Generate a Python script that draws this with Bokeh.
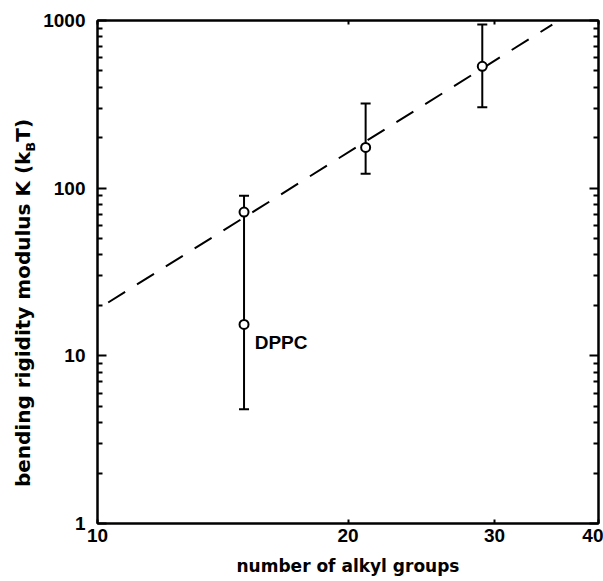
import numpy as np
from bokeh.plotting import figure
from bokeh.layouts import row
from bokeh.models import (Range1d, FixedTicker, PrintfTickFormatter, LogAxis, Label,
                          Whisker, TeeHead, ColumnDataSource, CustomLabelingPolicy, Div)
from bokeh.embed import file_html
from bokeh.resources import INLINE

# ---- data ----
x_ticks = [10, 20, 30, 40]
y_ticks = [1, 10, 100, 1000]
y_minor = [m * d for d in (1, 10, 100) for m in range(2, 10)]

n_alkyl = [15, 15, 21, 29]
k_modulus = [72, 15.4, 175, 533]

bar_x = [15, 21, 29]
bar_low = [4.8, 122, 304]
bar_high = [90, 320, 945]

fit_x = [10.3, 35.2]
fit_k = [20.8, 945]

dppc_x = 15.45
dppc_y = 12.0
dppc_text = "DPPC"

x_title = "number of alkyl groups"
y_title_main = "bending rigidity modulus K (k"
y_title_sub = "B"
y_title_tail = "T)"

TICK_FONT = "Liberation Sans"
TITLE_FONT = "DejaVu Sans"

LABEL_W = 40

p = figure(width=603 - LABEL_W, height=581, x_axis_type="log", y_axis_type="log",
           x_range=Range1d(10, 40), y_range=Range1d(1, 1000),
           output_backend="svg", toolbar_location=None,
           min_border_left=96 - LABEL_W, min_border_right=2, min_border_top=20,
           min_border_bottom=58, margin=0)
p.xgrid.grid_line_color = None
p.ygrid.grid_line_color = None
p.outline_line_color = "black"
p.outline_line_width = 2
p.background_fill_color = "white"
p.border_fill_color = "white"

fmt = PrintfTickFormatter(format="%d")
no_labels = CustomLabelingPolicy(code="for (const i of indices) { indices.unset(i) }\nreturn indices")

def style_x(ax, labels=True):
    ax.ticker = FixedTicker(ticks=x_ticks, minor_ticks=[])
    ax.formatter = fmt
    ax.axis_line_width = 2
    ax.major_tick_in = 4
    ax.major_tick_out = 0
    ax.major_tick_line_width = 2
    ax.minor_tick_in = 0
    ax.minor_tick_out = 0
    if labels:
        ax.major_label_text_font = TICK_FONT
        ax.major_label_text_font_style = "bold"
        ax.major_label_text_font_size = "19px"
        ax.major_label_text_color = "black"
        ax.major_label_standoff = 5
    else:
        ax.major_label_policy = no_labels
        ax.major_label_text_font_size = "1px"
        ax.major_label_standoff = 0

def style_y(ax, labels=True):
    ax.ticker = FixedTicker(ticks=y_ticks, minor_ticks=y_minor)
    ax.formatter = fmt
    ax.axis_line_width = 2
    ax.major_tick_in = 9
    ax.major_tick_out = 0
    ax.major_tick_line_width = 2
    ax.minor_tick_in = 5
    ax.minor_tick_out = 0
    ax.minor_tick_line_width = 2
    if labels:
        ax.major_label_text_font = TICK_FONT
        ax.major_label_text_font_style = "bold"
        ax.major_label_text_font_size = "19px"
        ax.major_label_text_color = "black"
        ax.major_label_standoff = 12
    else:
        ax.major_label_policy = no_labels
        ax.major_label_text_font_size = "1px"
        ax.major_label_standoff = 0

style_x(p.xaxis[0])
style_y(p.yaxis[0])
p.xaxis.axis_label = x_title
p.xaxis.axis_label_text_font = TITLE_FONT
p.xaxis.axis_label_text_font_style = "bold"
p.xaxis.axis_label_text_font_size = "17px"
p.xaxis.axis_label_text_color = "black"
p.xaxis.axis_label_standoff = 11

top_ax = LogAxis()
style_x(top_ax, labels=False)
p.add_layout(top_ax, "above")
right_ax = LogAxis()
style_y(right_ax, labels=False)
p.add_layout(right_ax, "right")

# fitted dashed line
p.line(fit_x, fit_k, line_color="black", line_width=2, line_dash="20 14")

# error bars
src = ColumnDataSource(dict(x=bar_x, lo=bar_low, hi=bar_high))
p.add_layout(Whisker(source=src, base="x", lower="lo", upper="hi", dimension="height",
                     line_color="black", line_width=2,
                     upper_head=TeeHead(size=10, line_width=2, line_color="black"),
                     lower_head=TeeHead(size=10, line_width=2, line_color="black")))

# data points
p.scatter(n_alkyl, k_modulus, marker="circle", size=9, fill_color="white",
          line_color="black", line_width=2)

p.add_layout(Label(x=dppc_x, y=dppc_y, text=dppc_text, text_font=TICK_FONT,
                   text_font_style="bold", text_font_size="19px", text_color="black",
                   text_baseline="middle", text_align="left"))

# y-axis title with subscript B, as rotated HTML text beside the figure
ytitle_html = (
    '<span style="position:absolute; left:25px; top:303px; '
    'transform:translate(-50%,-50%) rotate(-90deg); white-space:nowrap; '
    "font-family:'DejaVu Sans'; font-weight:bold; font-size:20px; color:black; "
    'line-height:1;">'
    f'{y_title_main}<sub style="font-size:13px;">{y_title_sub}</sub>{y_title_tail}</span>'
)
ylab = Div(text=ytitle_html, width=LABEL_W, height=581, margin=0,
           styles={"position": "relative", "overflow": "visible"})

layout = row(ylab, p, spacing=0)
open("out.html", "w").write(file_html(layout, INLINE))
